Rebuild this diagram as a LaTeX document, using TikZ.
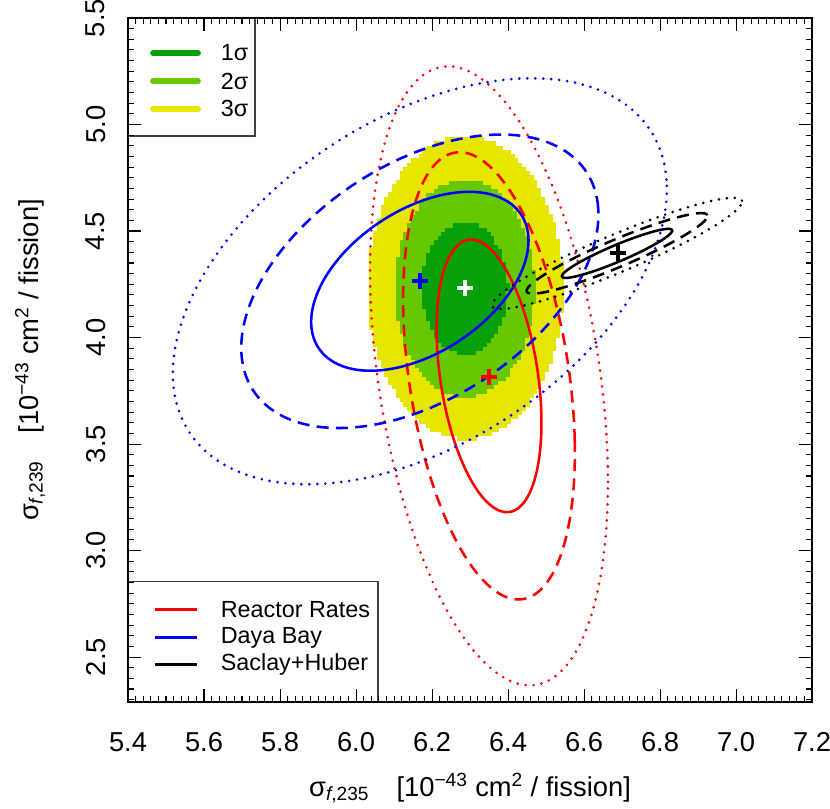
\documentclass[tikz,border=0pt]{standalone}
\usepackage{fontspec}
\setmainfont{Liberation Sans}
\definecolor{gA}{RGB}{8,160,8}
\definecolor{gB}{RGB}{102,200,0}
\definecolor{gC}{RGB}{230,230,0}
\tikzset{
  c1/.style={line width=1.9pt},
  c2/.style={line width=1.9pt,dash pattern=on 9pt off 5.5pt},
  c3/.style={line width=2.2pt,line cap=round,dash pattern=on 0pt off 6pt},
  cross/.style={line width=3pt},
  tick/.style={line width=0.8pt},
  lab/.style={font=\fontsize{20.5}{24}\selectfont},
  leg/.style={font=\fontsize{17.5}{21}\selectfont,anchor=west},
  legbox/.style={draw=black!75,line width=0.9pt,fill=white},
  lev1/.style={fill=gA,draw=gA,line width=0.2pt},
  lev2/.style={fill=gB,draw=gB,line width=0.2pt},
  lev3/.style={fill=gC,draw=gC,line width=0.2pt},
}
\begin{document}
\begin{tikzpicture}[x=0.75pt,y=-0.75pt]
\useasboundingbox (0,0) rectangle (830,808);
\begin{scope}[shift={(-1924,1189.5)},x=285pt,y=159.75pt]
% confidence regions (pixelated)
\foreach \i in {0,...,59}{\foreach \j in {0,...,79}{
  \pgfmathsetmacro\cx{6.0+0.01*\i}
  \pgfmathsetmacro\cy{3.43+0.02*\j}
  \pgfmathsetmacro\q{((\cx-6.287)/0.0745)^2+((\cy-4.235)/0.206)^2}
  \pgfmathtruncatemacro\lev{\q<2.30?1:(\q<6.18?2:(\q<11.83?3:0))}
  \ifnum\lev>0 \path[lev\lev] (\cx-0.005,\cy-0.01) rectangle ++(0.0102,0.0202);\fi
}}
% reactor rates (red)
\draw[red,c1] plot[domain=0:360,samples=120,smooth cycle] ({6.35+0.138*cos(\x)},{3.82+0.640*cos(\x-110)});
\draw[red,c2] plot[domain=0:360,samples=120,smooth cycle] ({6.35+0.226*cos(\x)},{3.82+1.050*cos(\x-110)});
\draw[red,c3] plot[domain=0:360,samples=120,smooth cycle] ({6.35+0.313*cos(\x)},{3.82+1.453*cos(\x-110)});
% daya bay (blue)
\draw[blue,c1] plot[domain=0:360,samples=120,smooth cycle] ({6.168+0.286*cos(\x)},{4.264+0.420*cos(\x-63)});
\draw[blue,c2] plot[domain=0:360,samples=120,smooth cycle] ({6.168+0.470*cos(\x)},{4.264+0.689*cos(\x-63)});
\draw[blue,c3] plot[domain=0:360,samples=120,smooth cycle] ({6.168+0.650*cos(\x)},{4.264+0.953*cos(\x-63)});
% saclay+huber (black)
\draw[black,c1] plot[domain=0:360,samples=120,smooth cycle] ({6.687+0.145*cos(\x)},{4.395+0.115*cos(\x-21.6)});
\draw[black,c2] plot[domain=0:360,samples=120,smooth cycle] ({6.687+0.238*cos(\x)},{4.395+0.189*cos(\x-21.6)});
\draw[black,c3] plot[domain=0:360,samples=120,smooth cycle] ({6.687+0.329*cos(\x)},{4.395+0.261*cos(\x-21.6)});
% best-fit crosses
\coordinate (pw) at (6.287,4.232);
\coordinate (pb) at (6.168,4.264);
\coordinate (pr) at (6.350,3.815);
\coordinate (pk) at (6.689,4.397);
\foreach \p/\c in {pw/white,pb/blue,pr/red,pk/black}{
  \draw[\c,cross] ([xshift=-6pt]\p) -- ([xshift=6pt]\p);
  \draw[\c,cross] ([yshift=-6pt]\p) -- ([yshift=6pt]\p);
}
% legends
\path[legbox] (5.4,5.5) rectangle (5.7342,4.946);
\foreach \yy/\c/\t in {5.336/gA/1σ,5.204/gB/2σ,5.073/gC/3σ}{
  \draw[\c,line width=4.5pt,line cap=round] (5.466,\yy) -- (5.584,\yy);
  \node[leg] at (5.632,\yy) {\t};
}
\path[legbox] (5.4,2.8545) rectangle (6.058,2.2887);
\foreach \yy/\c/\t in {2.723/red/Reactor Rates,2.592/blue/Daya Bay,2.465/black/Saclay+Huber}{
  \draw[\c,line width=1.7pt] (5.471,\yy) -- (5.582,\yy);
  \node[leg] at (5.632,\yy) {\t};
}
% ticks
\foreach \k in {0,...,90}{
  \pgfmathsetmacro\v{5.4+0.02*\k}
  \pgfmathtruncatemacro\m{mod(\k,10)==0?1:0}
  \ifnum\m=1 \def\tl{9.75pt}\else\def\tl{4.8pt}\fi
  \draw[tick] (\v,2.2887) -- ++(0pt,\tl);
  \draw[tick] (\v,5.5) -- ++(0pt,-\tl);
}
\foreach \k in {0,...,64}{
  \pgfmathsetmacro\v{5.5-0.05*\k}
  \pgfmathtruncatemacro\m{mod(\k,10)==0?1:0}
  \ifnum\m=1 \def\tl{9.75pt}\else\def\tl{4.8pt}\fi
  \draw[tick] (5.4,\v) -- ++(\tl,0pt);
  \draw[tick] (7.2,\v) -- ++(-\tl,0pt);
}
\draw[line width=1.1pt] (5.4,2.2887) rectangle (7.2,5.5);
% tick labels
\foreach \v in {5.4,5.6,5.8,6.0,6.2,6.4,6.6,6.8,7.0,7.2}{
  \node[lab] at (\v,2.101) {\v};
}
\foreach \v in {2.5,3.0,3.5,4.0,4.5,5.0,5.5}{
  \node[lab,rotate=90] at (5.315,\v) {\v};
}
\end{scope}
\node[lab] (xt) at (470,788) {σ\textsubscript{\textit{f},235}\quad[10\textsuperscript{−43} cm\textsuperscript{2} / fission]};
\node[lab,rotate=90] (yt) at (30,360) {σ\textsubscript{\textit{f},239}\quad[10\textsuperscript{−43} cm\textsuperscript{2} / fission]};
\end{tikzpicture}
\end{document}
